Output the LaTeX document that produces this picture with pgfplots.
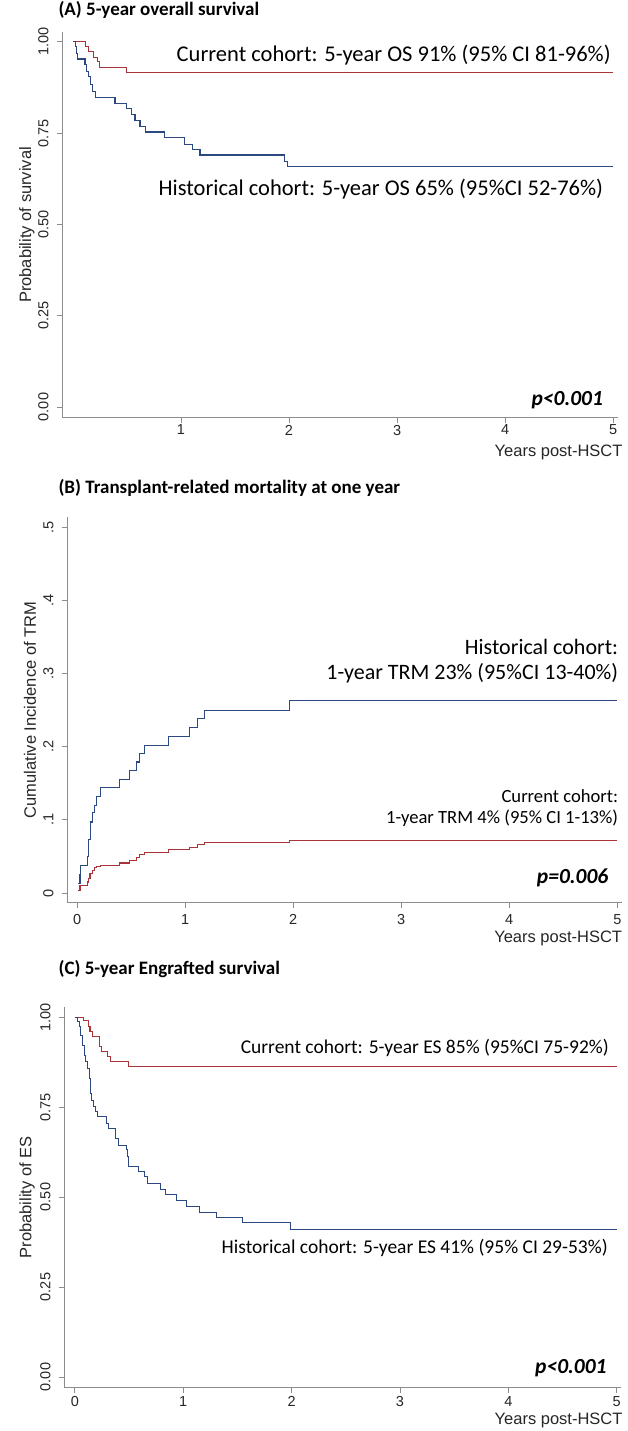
\documentclass[border=0pt]{standalone}
\usepackage{pgfplots}
\pgfplotsset{compat=1.18}
\usepackage{pgfplotstable}
\usepackage{fontspec}
\setmainfont{Liberation Sans}
\newfontfamily\carlito{Carlito}
\definecolor{cred}{RGB}{168,52,58}
\definecolor{cblue}{RGB}{44,72,128}
\definecolor{axgray}{RGB}{140,140,140}

% Panel A: overall survival
\pgfplotstableread{
t s
0.000 1.000
0.117 0.987
0.142 0.973
0.188 0.958
0.228 0.946
0.247 0.930
0.497 0.916
5.000 0.916
}\osCur
\pgfplotstableread{
t s
0.000 1.000
0.019 0.987
0.030 0.969
0.040 0.953
0.111 0.937
0.127 0.919
0.142 0.905
0.160 0.882
0.180 0.864
0.210 0.847
0.389 0.831
0.497 0.817
0.543 0.801
0.574 0.785
0.620 0.769
0.673 0.753
0.843 0.737
1.031 0.720
1.108 0.705
1.176 0.690
1.957 0.673
1.985 0.658
5.000 0.658
}\osHist

% Panel B: TRM cumulative incidence
\pgfplotstableread{
t s
0.009 0.013
0.025 0.025
0.034 0.037
0.093 0.050
0.103 0.073
0.125 0.097
0.143 0.110
0.156 0.120
0.174 0.132
0.212 0.144
0.389 0.155
0.486 0.167
0.548 0.179
0.579 0.191
0.626 0.202
0.841 0.214
1.037 0.226
1.115 0.239
1.178 0.250
1.963 0.263
5.000 0.263
}\trmHist
\pgfplotstableread{
t s
0.003 0.003
0.025 0.010
0.093 0.015
0.103 0.020
0.118 0.027
0.137 0.031
0.159 0.035
0.181 0.036
0.212 0.038
0.389 0.041
0.486 0.045
0.548 0.048
0.579 0.052
0.626 0.055
0.841 0.059
1.037 0.062
1.115 0.066
1.178 0.069
1.963 0.072
5.000 0.072
}\trmCur

% Panel C: engrafted survival
\pgfplotstableread{
t s
0.000 1.000
0.080 0.990
0.123 0.973
0.140 0.959
0.163 0.945
0.231 0.918
0.246 0.904
0.302 0.890
0.326 0.876
0.495 0.862
5.000 0.862
}\esCur
\pgfplotstableread{
t s
0.000 1.000
0.025 0.987
0.040 0.973
0.055 0.950
0.071 0.922
0.086 0.894
0.102 0.876
0.117 0.857
0.132 0.830
0.142 0.788
0.154 0.769
0.172 0.751
0.194 0.737
0.209 0.723
0.295 0.705
0.308 0.691
0.378 0.663
0.400 0.644
0.480 0.631
0.488 0.612
0.495 0.584
0.585 0.570
0.640 0.556
0.671 0.538
0.790 0.520
0.836 0.506
0.936 0.491
1.029 0.474
1.147 0.458
1.306 0.442
1.547 0.428
1.991 0.411
5.000 0.411
}\esHist

\pgfplotsset{
  km/.style={
    scale only axis, anchor=south west, clip=false,
    axis x line*=bottom, axis y line*=left,
    axis line style={axgray, line width=1pt, -},
    tick style={axgray, line width=0.8pt},
    tick align=outside, major tick length=5pt,
    ticklabel style={font=\fontsize{14.5}{14.5}\selectfont, text=black!85},
    yticklabel style={rotate=90, anchor=south},
    yticklabel shift=5pt,
    label style={font=\fontsize{16.5}{16.5}\selectfont, text=black!85},
    xlabel style={at={(axis description cs:1.0,0)}, anchor=east},
  },
  cur/.style={const plot, cred, line width=1.1pt, no marks},
  hist/.style={const plot, cblue, line width=1.1pt, no marks},
}
\newcommand{\ann}[1]{\carlito\fontsize{#1}{#1}\selectfont}
\newcommand{\ttl}{\carlito\bfseries\fontsize{19}{19}\selectfont}
\newcommand{\pv}{\carlito\bfseries\itshape\fontsize{21.5}{21.5}\selectfont}

\begin{document}
\begin{tikzpicture}
\useasboundingbox (0pt,0pt) rectangle (628pt,1431pt);

% ---------- Panel A ----------
\begin{axis}[km, at={(62pt,1013pt)}, width=556pt, height=386pt,
  xmin=-0.102, xmax=5.046, ymin=-0.030, ymax=1.027,
  xtick={1,2,3,4,5}, xticklabels={1,2,3,4,5},
  xticklabel shift=-1.5pt,
  ytick={0,0.25,0.5,0.75,1}, yticklabels={0.00,0.25,0.50,0.75,1.00},
  ylabel={Probability of survival},
  ylabel style={at={(axis description cs:-0.063,0.5)}, anchor=center},
  xlabel={Years post-HSCT}, xlabel style={yshift=-34pt, xshift=8pt}]
\addplot[cur] table[x=t,y=s] {\osCur};
\addplot[hist] table[x=t,y=s] {\osHist};
\node[anchor=west, font=\ttl] at (rel axis cs:-0.0126,1.057) {(A) 5-year overall survival};
\node[anchor=east, font=\ann{22.5}] at (axis cs:5.01,0.964) {Current cohort: 5-year OS 91\% (95\% CI 81-96\%)};
\node[anchor=east, font=\ann{22.5}] at (axis cs:4.94,0.597) {Historical cohort: 5-year OS 65\% (95\%CI 52-76\%)};
\node[anchor=east, font=\pv] at (axis cs:4.94,0.019) {p<0.001};
\end{axis}

% ---------- Panel B ----------
\begin{axis}[km, at={(67pt,528pt)}, width=554.6pt, height=386pt,
  xmin=-0.095, xmax=5.04, ymin=-0.0137, ymax=0.514,
  xtick={0,1,2,3,4,5}, xticklabels={0,1,2,3,4,5},
  xticklabel shift=3pt,
  ytick={0,0.1,0.2,0.3,0.4,0.5}, yticklabels={0,.1,.2,.3,.4,.5},
  ylabel={Cumulative Incidence of TRM},
  ylabel style={at={(axis description cs:-0.0667,0.5)}, anchor=center},
  xlabel={Years post-HSCT}, xlabel style={yshift=-35pt, xshift=4pt}]
\addplot[cur] table[x=t,y=s] {\trmCur};
\addplot[hist] table[x=t,y=s] {\trmHist};
\node[anchor=west, font=\ttl] at (rel axis cs:-0.0216,1.075) {(B) Transplant-related mortality at one year};
\node[anchor=east, font=\ann{22}] at (axis cs:5.04,0.337) {Historical cohort:};
\node[anchor=east, font=\ann{22}] at (axis cs:5.04,0.300) {1-year TRM 23\% (95\%CI 13-40\%)};
\node[anchor=east, font=\ann{18.6}] at (axis cs:5.04,0.1325) {Current cohort:};
\node[anchor=east, font=\ann{18.6}] at (axis cs:5.04,0.102) {1-year TRM 4\% (95\% CI 1-13\%)};
\node[anchor=east, font=\pv] at (axis cs:4.95,0.0205) {p=0.006};
\end{axis}

% ---------- Panel C ----------
\begin{axis}[km, at={(64pt,43pt)}, width=557pt, height=381pt,
  xmin=-0.1, xmax=5.04, ymin=-0.0306, ymax=1.028,
  xtick={0,1,2,3,4,5}, xticklabels={0,1,2,3,4,5},
  ytick={0,0.25,0.5,0.75,1}, yticklabels={0.00,0.25,0.50,0.75,1.00},
  ylabel={Probability of ES},
  ylabel style={at={(axis description cs:-0.0664,0.5)}, anchor=center},
  xlabel={Years post-HSCT}, xlabel style={yshift=-32pt, xshift=5pt}]
\addplot[cur] table[x=t,y=s] {\esCur};
\addplot[hist] table[x=t,y=s] {\esHist};
\node[anchor=west, font=\ttl] at (rel axis cs:-0.016,1.0997) {(C) 5-year Engrafted survival};
\node[anchor=east, font=\ann{19.5}] at (axis cs:4.96,0.914) {Current cohort: 5-year ES 85\% (95\%CI 75-92\%)};
\node[anchor=east, font=\ann{19.5}] at (axis cs:4.95,0.358) {Historical cohort: 5-year ES 41\% (95\% CI 29-53\%)};
\node[anchor=east, font=\pv] at (axis cs:4.94,0.025) {p<0.001};
\end{axis}
\end{tikzpicture}
\end{document}
